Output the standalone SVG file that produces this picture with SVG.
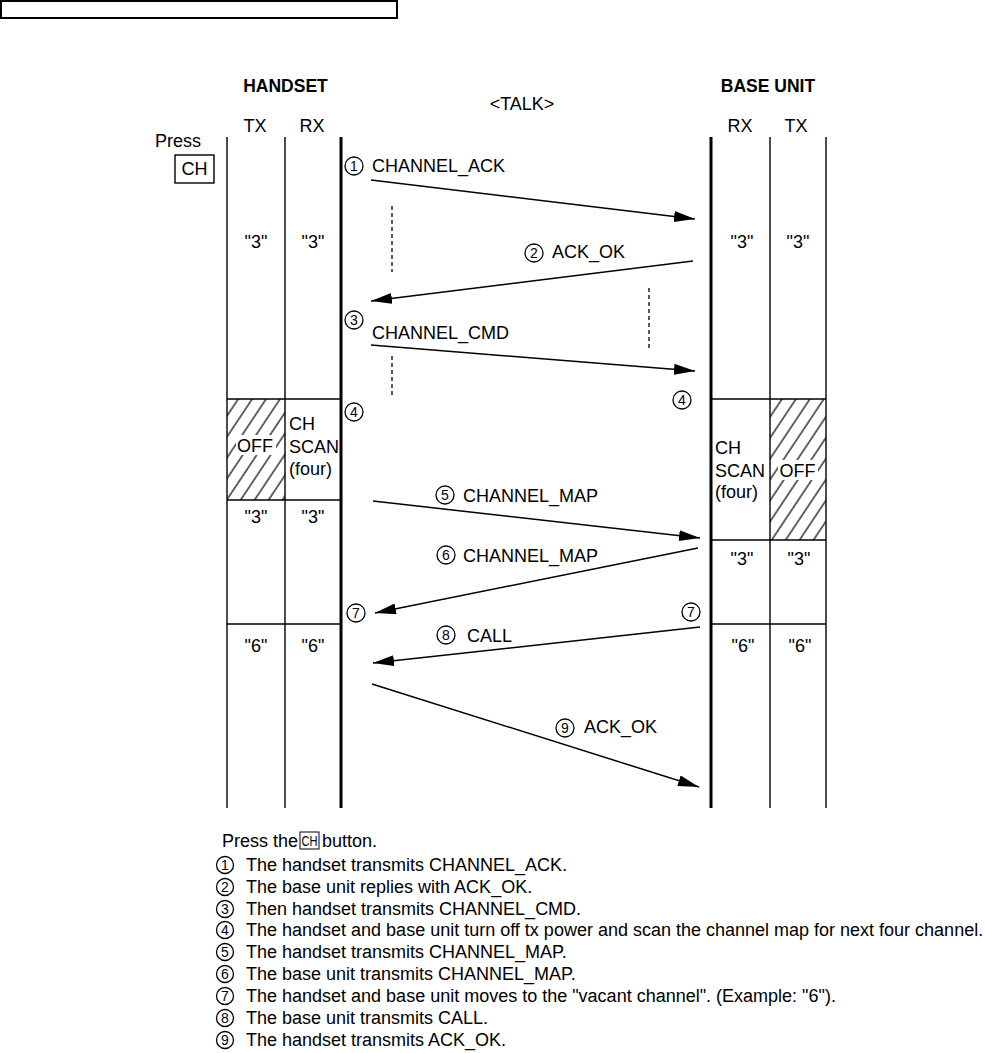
<svg xmlns="http://www.w3.org/2000/svg" width="985" height="1053" viewBox="0 0 985 1053">
<style>
text{font-family:"Liberation Sans",Arial,sans-serif;font-size:18px;fill:#000}
.b{font-weight:bold;font-size:17.5px}
.m{text-anchor:middle}
.d{font-size:14px;text-anchor:middle}
.ci{fill:none;stroke:#000;stroke-width:1.3}
.thin{stroke:#000;stroke-width:1.4;fill:none}
.thick{stroke:#000;stroke-width:3;fill:none}
.dash{stroke:#000;stroke-width:1.3;stroke-dasharray:4,3;fill:none}
.arr{stroke:#000;stroke-width:1.5;fill:none;marker-end:url(#ah)}
</style>
<defs>
<marker id="ah" markerUnits="userSpaceOnUse" markerWidth="22" markerHeight="12" refX="21" refY="5.5" orient="auto">
<path d="M0,0 L21,5.5 L0,11 Z" fill="#000"/>
</marker>
<pattern id="hatch" patternUnits="userSpaceOnUse" width="11.6" height="20" patternTransform="rotate(33.7)">
<line x1="2" y1="0" x2="2" y2="20" stroke="#000" stroke-width="1.2"/>
</pattern>
</defs>
<rect width="985" height="1053" fill="#fff"/>
<rect x="1" y="1" width="396" height="17" fill="none" stroke="#000" stroke-width="2"/>

<g id="headers">
<text class="b m" x="285.5" y="92">HANDSET</text>
<text class="b m" x="768" y="92">BASE UNIT</text>
<text class="m" x="522" y="110">&lt;TALK&gt;</text>
<text class="m" x="255" y="132">TX</text>
<text class="m" x="312" y="132">RX</text>
<text class="m" x="740" y="132">RX</text>
<text class="m" x="796" y="132">TX</text>
</g>

<g id="press">
<text x="155" y="147">Press</text>
<rect x="175" y="155" width="39" height="28" class="thin"/>
<text class="m" x="194.5" y="175">CH</text>
</g>

<g id="handset">
<rect x="227" y="399" width="58" height="101" fill="url(#hatch)"/>
<rect x="236" y="435" width="40" height="20" fill="#fff"/>
<line class="thin" x1="227" y1="137" x2="227" y2="808"/>
<line class="thin" x1="285" y1="137" x2="285" y2="808"/>
<line class="thick" x1="341" y1="137" x2="341" y2="808"/>
<line class="thin" x1="227" y1="399" x2="341" y2="399"/>
<line class="thin" x1="227" y1="500" x2="341" y2="500"/>
<line class="thin" x1="227" y1="624" x2="341" y2="624"/>
<text class="m" x="256" y="248">"3"</text>
<text class="m" x="313" y="248">"3"</text>
<text class="m" x="255" y="452">OFF</text>
<text x="289" y="430">CH</text>
<text x="289" y="453">SCAN</text>
<text x="289" y="475">(four)</text>
<text class="m" x="256" y="523">"3"</text>
<text class="m" x="313" y="523">"3"</text>
<text class="m" x="256" y="652">"6"</text>
<text class="m" x="313" y="652">"6"</text>
</g>

<g id="base">
<rect x="770" y="399" width="56" height="141" fill="url(#hatch)"/>
<rect x="778" y="460" width="40" height="20" fill="#fff"/>
<line class="thick" x1="711" y1="137" x2="711" y2="808"/>
<line class="thin" x1="770" y1="137" x2="770" y2="808"/>
<line class="thin" x1="826" y1="137" x2="826" y2="808"/>
<line class="thin" x1="711" y1="399" x2="826" y2="399"/>
<line class="thin" x1="711" y1="540" x2="826" y2="540"/>
<line class="thin" x1="711" y1="624" x2="826" y2="624"/>
<text class="m" x="742" y="248">"3"</text>
<text class="m" x="798" y="248">"3"</text>
<text x="715" y="454">CH</text>
<text x="715" y="477">SCAN</text>
<text x="715" y="498">(four)</text>
<text class="m" x="797.5" y="477">OFF</text>
<text class="m" x="742" y="565">"3"</text>
<text class="m" x="799" y="565">"3"</text>
<text class="m" x="743" y="652">"6"</text>
<text class="m" x="800" y="652">"6"</text>
</g>

<g id="connectors">
<line class="arr" x1="371" y1="180" x2="695" y2="219"/>
<line class="arr" x1="693" y1="261" x2="371" y2="301"/>
<line class="arr" x1="371" y1="345" x2="695" y2="371"/>
<line class="arr" x1="373" y1="501" x2="700" y2="538"/>
<line class="arr" x1="698" y1="548" x2="375" y2="613"/>
<line class="arr" x1="700" y1="627" x2="373" y2="663"/>
<line class="arr" x1="372" y1="684" x2="699" y2="787"/>
<line class="dash" x1="392" y1="206" x2="392" y2="272"/>
<line class="dash" x1="649" y1="288" x2="649" y2="348"/>
<line class="dash" x1="392" y1="356" x2="392" y2="397"/>
</g>

<g id="labels">
<circle class="ci" cx="354" cy="166" r="9"/><text class="d" x="354" y="171">1</text>
<text x="372" y="172">CHANNEL_ACK</text>
<circle class="ci" cx="534" cy="253" r="9"/><text class="d" x="534" y="258">2</text>
<text x="552" y="258">ACK_OK</text>
<circle class="ci" cx="354" cy="320" r="9"/><text class="d" x="354" y="325">3</text>
<text x="372" y="339">CHANNEL_CMD</text>
<circle class="ci" cx="354" cy="412" r="9"/><text class="d" x="354" y="417">4</text>
<circle class="ci" cx="682" cy="400" r="9"/><text class="d" x="682" y="405">4</text>
<circle class="ci" cx="445" cy="495" r="9"/><text class="d" x="445" y="500">5</text>
<text x="463" y="502">CHANNEL_MAP</text>
<circle class="ci" cx="446" cy="555" r="9"/><text class="d" x="446" y="560">6</text>
<text x="463" y="562">CHANNEL_MAP</text>
<circle class="ci" cx="356" cy="613" r="9"/><text class="d" x="356" y="618">7</text>
<circle class="ci" cx="691" cy="612" r="9"/><text class="d" x="691" y="617">7</text>
<circle class="ci" cx="446" cy="635" r="9"/><text class="d" x="446" y="640">8</text>
<text x="467" y="642">CALL</text>
<circle class="ci" cx="565" cy="728" r="9"/><text class="d" x="565" y="733">9</text>
<text x="584" y="733">ACK_OK</text>
</g>

<g id="notes">
<text x="222" y="847">Press the</text>
<rect x="300" y="832" width="19" height="17" fill="none" stroke="#000" stroke-width="1"/>
<text x="301.5" y="846" style="font-size:15px" textLength="16" lengthAdjust="spacingAndGlyphs">CH</text>
<text x="322" y="847">button.</text>
<circle class="ci" cx="225" cy="865" r="8.5"/><text class="d" x="225" y="870">1</text>
<text x="246" y="871">The handset transmits CHANNEL_ACK.</text>
<circle class="ci" cx="225" cy="887" r="8.5"/><text class="d" x="225" y="892">2</text>
<text x="246" y="893">The base unit replies with ACK_OK.</text>
<circle class="ci" cx="225" cy="909" r="8.5"/><text class="d" x="225" y="914">3</text>
<text x="246" y="915">Then handset transmits CHANNEL_CMD.</text>
<circle class="ci" cx="225" cy="930" r="8.5"/><text class="d" x="225" y="935">4</text>
<text x="246" y="936">The handset and base unit turn off tx power and scan the channel map for next four channel.</text>
<circle class="ci" cx="225" cy="952" r="8.5"/><text class="d" x="225" y="957">5</text>
<text x="246" y="958">The handset transmits CHANNEL_MAP.</text>
<circle class="ci" cx="225" cy="974" r="8.5"/><text class="d" x="225" y="979">6</text>
<text x="246" y="980">The base unit transmits CHANNEL_MAP.</text>
<circle class="ci" cx="225" cy="996" r="8.5"/><text class="d" x="225" y="1001">7</text>
<text x="246" y="1002">The handset and base unit moves to the "vacant channel". (Example: "6").</text>
<circle class="ci" cx="225" cy="1018" r="8.5"/><text class="d" x="225" y="1023">8</text>
<text x="246" y="1024">The base unit transmits CALL.</text>
<circle class="ci" cx="225" cy="1040" r="8.5"/><text class="d" x="225" y="1045">9</text>
<text x="246" y="1046">The handset transmits ACK_OK.</text>
</g>
</svg>
